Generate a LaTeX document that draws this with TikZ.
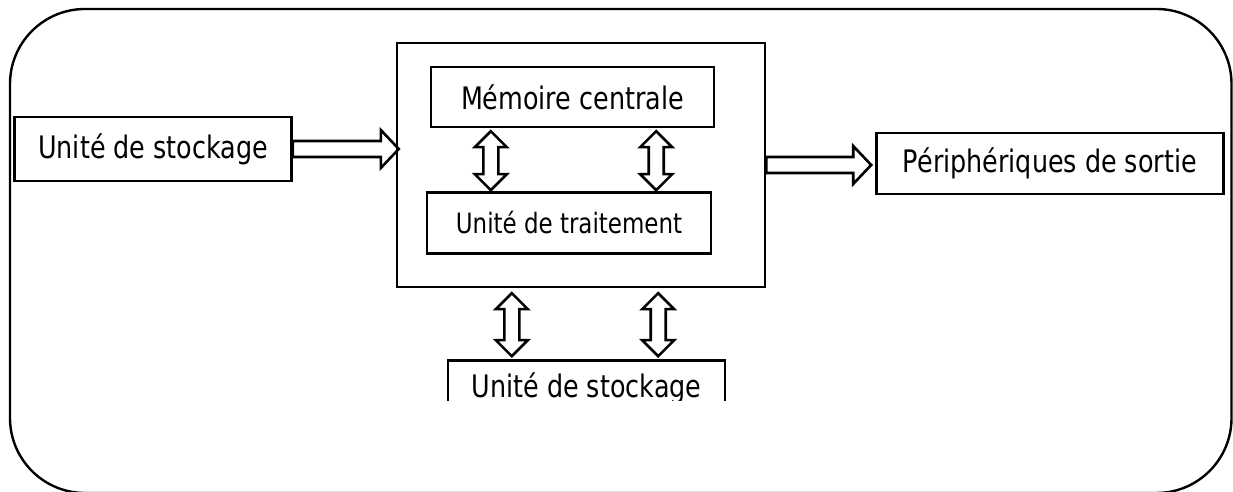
\documentclass[tikz,border=0pt]{standalone}
\usepackage{fontspec}
\setmainfont{DejaVu Sans}[FakeStretch=0.82]
\usetikzlibrary{positioning,calc}

\begin{document}
\begin{tikzpicture}[x=1pt, y=1pt, line width=2.4pt,
    block/.style={rectangle, draw=black, inner sep=0pt, text centered, font=\fontsize{31}{37}\selectfont},
    fatarrow/.style={line width=2.6pt, line join=miter, to path={let \p1=(\tikztostart), \p2=(\tikztotarget) in
      (\x1,\y1+8pt) -- (\x2-18pt,\y1+8pt) -- (\x2-18pt,\y1+19pt) -- (\x2,\y1) -- (\x2-18pt,\y1-19pt) -- (\x2-18pt,\y1-8pt) -- (\x1,\y1-8pt) -- cycle}},
    dblarrow/.style={line width=2.6pt, line join=miter, to path={let \p1=(\tikztostart), \p2=(\tikztotarget) in
      (\x1,\y1) -- (\x1+16pt,\y1-16pt) -- (\x1+7.5pt,\y1-16pt) -- (\x1+7.5pt,\y2+16pt) -- (\x1+16pt,\y2+16pt) -- (\x1,\y2)
      -- (\x1-16pt,\y2+16pt) -- (\x1-7.5pt,\y2+16pt) -- (\x1-7.5pt,\y1-16pt) -- (\x1-16pt,\y1-16pt) -- cycle}}
  ]
    \useasboundingbox (0,0) rectangle (1233,492);
    \draw[rounded corners=75pt] (10,-1) rectangle (1231.5,483);

    % Central unit
    \node (cpu) [block, minimum width=368pt, minimum height=244pt] at (581,327) {};
    \node (mem) [block, minimum width=283pt, minimum height=60pt, below=24pt of cpu.north, xshift=-8.5pt] {Mémoire centrale};
    \node (proc) [block, minimum width=284pt, minimum height=61pt, below=63pt of mem, xshift=-3.5pt, font=\fontsize{28}{33}\selectfont] {Unité de traitement};

    % Peripherals
    \node (stock_in) [block, minimum width=277pt, minimum height=64pt, left=103pt of cpu, yshift=16pt] {Unité de stockage};
    \node (out) [block, minimum width=347pt, minimum height=61pt, right=109pt of cpu, yshift=1.5pt] {Périphériques de sortie};
    \begin{scope}
      \clip (0,91) rectangle (1233,492);
      \node (store) [block, minimum width=277pt, minimum height=56pt, below=71pt of cpu, xshift=5.5pt] {Unité de stockage};
    \end{scope}

    % Transfers
    \draw[fatarrow] (stock_in.east) to ([xshift=3pt]cpu.west);
    \draw[fatarrow] (cpu.east) to ([xshift=-4pt]out.west);
    \draw[dblarrow] ([xshift=61pt,yshift=-3pt]mem.south west) to ([yshift=1pt]proc.north);
    \draw[dblarrow] ([xshift=-59pt,yshift=-3pt]mem.south east) to ([yshift=1pt]proc.north);
    \draw[dblarrow] ([xshift=116pt,yshift=-5pt]cpu.south west) to ([yshift=3pt]store.north);
    \draw[dblarrow] ([xshift=-108pt,yshift=-5pt]cpu.south east) to ([yshift=3pt]store.north);

  \end{tikzpicture}
\end{document}
